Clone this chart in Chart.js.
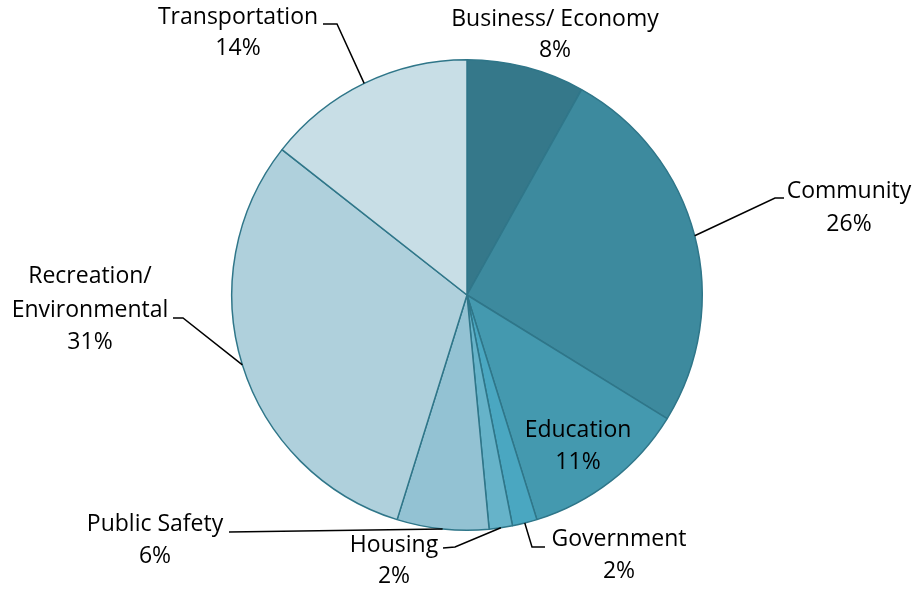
<!DOCTYPE html>
<html>
<head>
<meta charset="utf-8">
<script src="https://cdn.jsdelivr.net/npm/chart.js"></script>
<style>
  html, body { margin: 0; padding: 0; background: #fff; }
  #chart { display: block; }
</style>
</head>
<body>
<canvas id="chart" width="917" height="592"></canvas>
<script>
  // categories and their shares (%), clockwise from 12 o'clock
  const categories = ['Business/ Economy', 'Community', 'Education', 'Government', 'Housing', 'Public Safety', ['Recreation/', 'Environmental'], 'Transportation'];
  const shares = [8.1, 25.7, 11.4, 1.7, 1.6, 6.3, 30.8, 14.4];
  const sliceColors = ['#35788A', '#3D8A9E', '#4499AF', '#4AA7C1', '#66B3C9', '#93C2D3', '#AFD0DC', '#C8DEE6'];

  // where each label sits; leader starts at the slice's outer edge
  const labelLayout = [
    { x: 555, y: [19, 50] },
    { x: 849, y: [191, 224], elbow: [775, 198], end: [784, 198] },
    { x: 578, y: [430, 462] },
    { x: 619, y: [539, 571], elbow: [532, 547], end: [545, 547] },
    { x: 394, y: [545, 576], elbow: [455, 547], end: [443, 548] },
    { x: 155, y: [524, 556], elbow: [229, 532], end: [229, 532] },
    { x: 90, y: [276, 310, 342], elbow: [183, 318], end: [173, 318] },
    { x: 238, y: [17, 48], elbow: [337, 24], end: [323, 24] }
  ];

  const pieLabels = {
    id: 'pieLabels',
    afterDatasetsDraw(chart) {
      const ctx = chart.ctx;
      const meta = chart.getDatasetMeta(0);
      ctx.save();
      meta.data.forEach((arc, i) => {
        const lay = labelLayout[i];
        if (lay.elbow) {
          const mid = (arc.startAngle + arc.endAngle) / 2;
          const sx = arc.x + Math.cos(mid) * arc.outerRadius;
          const sy = arc.y + Math.sin(mid) * arc.outerRadius;
          ctx.beginPath();
          ctx.moveTo(sx, sy);
          ctx.lineTo(lay.elbow[0], lay.elbow[1]);
          ctx.lineTo(lay.end[0], lay.end[1]);
          ctx.strokeStyle = '#000';
          ctx.lineWidth = 1.5;
          ctx.stroke();
        }
        const cat = categories[i];
        const lines = (Array.isArray(cat) ? cat : [cat]).concat(Math.round(shares[i]) + '%');
        ctx.fillStyle = '#000';
        ctx.font = '23px "Open Sans", sans-serif';
        ctx.textAlign = 'center';
        ctx.textBaseline = 'middle';
        lines.forEach((t, k) => ctx.fillText(t, lay.x, lay.y[k]));
      });
      ctx.restore();
    }
  };

  new Chart(document.getElementById('chart'), {
    type: 'pie',
    data: {
      labels: categories,
      datasets: [{
        data: shares,
        backgroundColor: sliceColors,
        borderColor: '#2F7689',
        borderWidth: 1.5
      }]
    },
    options: {
      responsive: false,
      animation: false,
      layout: { padding: { left: 231, right: 214, top: 58, bottom: 60 } },
      plugins: {
        legend: { display: false },
        tooltip: { enabled: false }
      }
    },
    plugins: [pieLabels]
  });
</script>
</body>
</html>
